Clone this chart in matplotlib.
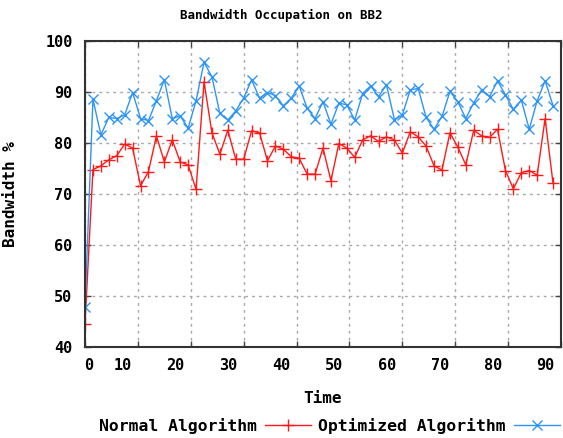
import matplotlib
matplotlib.use('Agg')
import matplotlib.pyplot as plt
import matplotlib.transforms as mtransforms

# time axis: one sample every 1.5 time units
time = [i * 1.5 for i in range(60)]

normal = [44.5, 74.8, 75.5, 76.7, 77.5, 79.8, 79.0, 71.6, 74.4, 81.4,
          76.3, 80.6, 76.3, 75.7, 70.9, 92.0, 82.0, 77.8, 82.5, 76.8,
          76.8, 82.4, 82.0, 76.5, 79.4, 78.8, 77.3, 77.0, 73.9, 73.9,
          79.0, 72.6, 79.9, 79.0, 77.2, 80.6, 81.4, 80.3, 81.2, 80.6,
          78.0, 82.2, 81.2, 79.4, 75.5, 74.7, 82.0, 79.2, 75.7, 82.5,
          81.4, 81.1, 82.7, 74.6, 71.0, 74.2, 74.6, 73.7, 84.8, 72.1]

optimized = [47.8, 88.6, 81.6, 85.0, 84.8, 85.5, 89.9, 84.8, 84.4, 88.3,
             92.4, 84.8, 85.3, 82.9, 88.3, 95.8, 93.0, 85.8, 84.5, 86.3,
             88.8, 92.4, 88.8, 89.9, 89.3, 87.3, 88.8, 91.2, 86.8, 84.8,
             88.1, 83.7, 87.8, 87.5, 84.5, 89.7, 91.2, 89.1, 91.4, 84.6,
             85.5, 90.4, 90.7, 85.0, 82.7, 85.2, 90.1, 88.1, 84.8, 87.9,
             90.4, 89.1, 92.2, 89.4, 86.6, 88.4, 82.7, 88.3, 92.2, 87.3]

xticks = [0, 10, 20, 30, 40, 50, 60, 70, 80, 90]
yticks = [40, 50, 60, 70, 80, 90, 100]

FONT = 'DejaVu Sans Mono'


def create_plot():
    fig = plt.figure(figsize=(5.63, 4.38), dpi=100)
    ax = fig.add_axes([0.151, 0.2078, 0.8454, 0.6986])

    ax.plot(time, normal, color='#ff1a1a', lw=1.0, marker='+', ms=8, mew=1.0,
            label='Normal Algorithm')
    ax.plot(time, optimized, color='#2f95f5', lw=1.0, marker='x', ms=7, mew=1.0,
            label='Optimized Algorithm')

    ax.set_xlim(0, 90)
    ax.set_ylim(40, 100)
    ax.set_xticks(xticks)
    ax.set_yticks(yticks)
    ax.set_xticklabels([str(t) for t in xticks], fontfamily=FONT,
                       fontweight='bold', fontsize=11)
    ax.set_yticklabels([str(t) for t in yticks], fontfamily=FONT,
                       fontweight='bold', fontsize=11)
    ax.tick_params(direction='in', length=4, width=1, color='#444444',
                   top=True, right=True, pad=8)
    ax.tick_params(axis='y', pad=9)

    # x tick labels sit a bit left of their ticks in the original
    for lab, t in zip(ax.get_xticklabels(), xticks):
        dx = 3 / 72 if t == 0 else -11 / 72
        off = mtransforms.ScaledTranslation(dx, 0, fig.dpi_scale_trans)
        lab.set_transform(lab.get_transform() + off)

    ax.grid(True, color='#a8a8a8', linestyle=(0, (2, 3)), lw=1)
    for s in ax.spines.values():
        s.set_linewidth(1.5)
        s.set_color('#333333')

    ax.set_xlabel('Time', fontfamily=FONT, fontweight='bold', fontsize=11.5)
    ax.xaxis.set_label_coords(0.5, -0.145)
    ax.set_ylabel('Bandwidth %', fontfamily=FONT, fontweight='bold', fontsize=11.5)
    ax.yaxis.set_label_coords(-0.141, 0.5)

    fig.text(0.5, 1 - 15 / 438, 'Bandwidth Occupation on BB2', ha='center',
             va='center', fontfamily=FONT, fontweight='bold', fontsize=9)

    fig.legend(loc='center left', bbox_to_anchor=(84 / 563, 1 - 426 / 438), ncol=2,
               frameon=False, markerfirst=False, handlelength=2.8,
               columnspacing=0.45, handletextpad=0.5,
               prop={'family': FONT, 'weight': 'bold', 'size': 11.8})
    return fig


if __name__ == "__main__":
    fig = create_plot()
    fig.savefig('out.png', dpi=100)
